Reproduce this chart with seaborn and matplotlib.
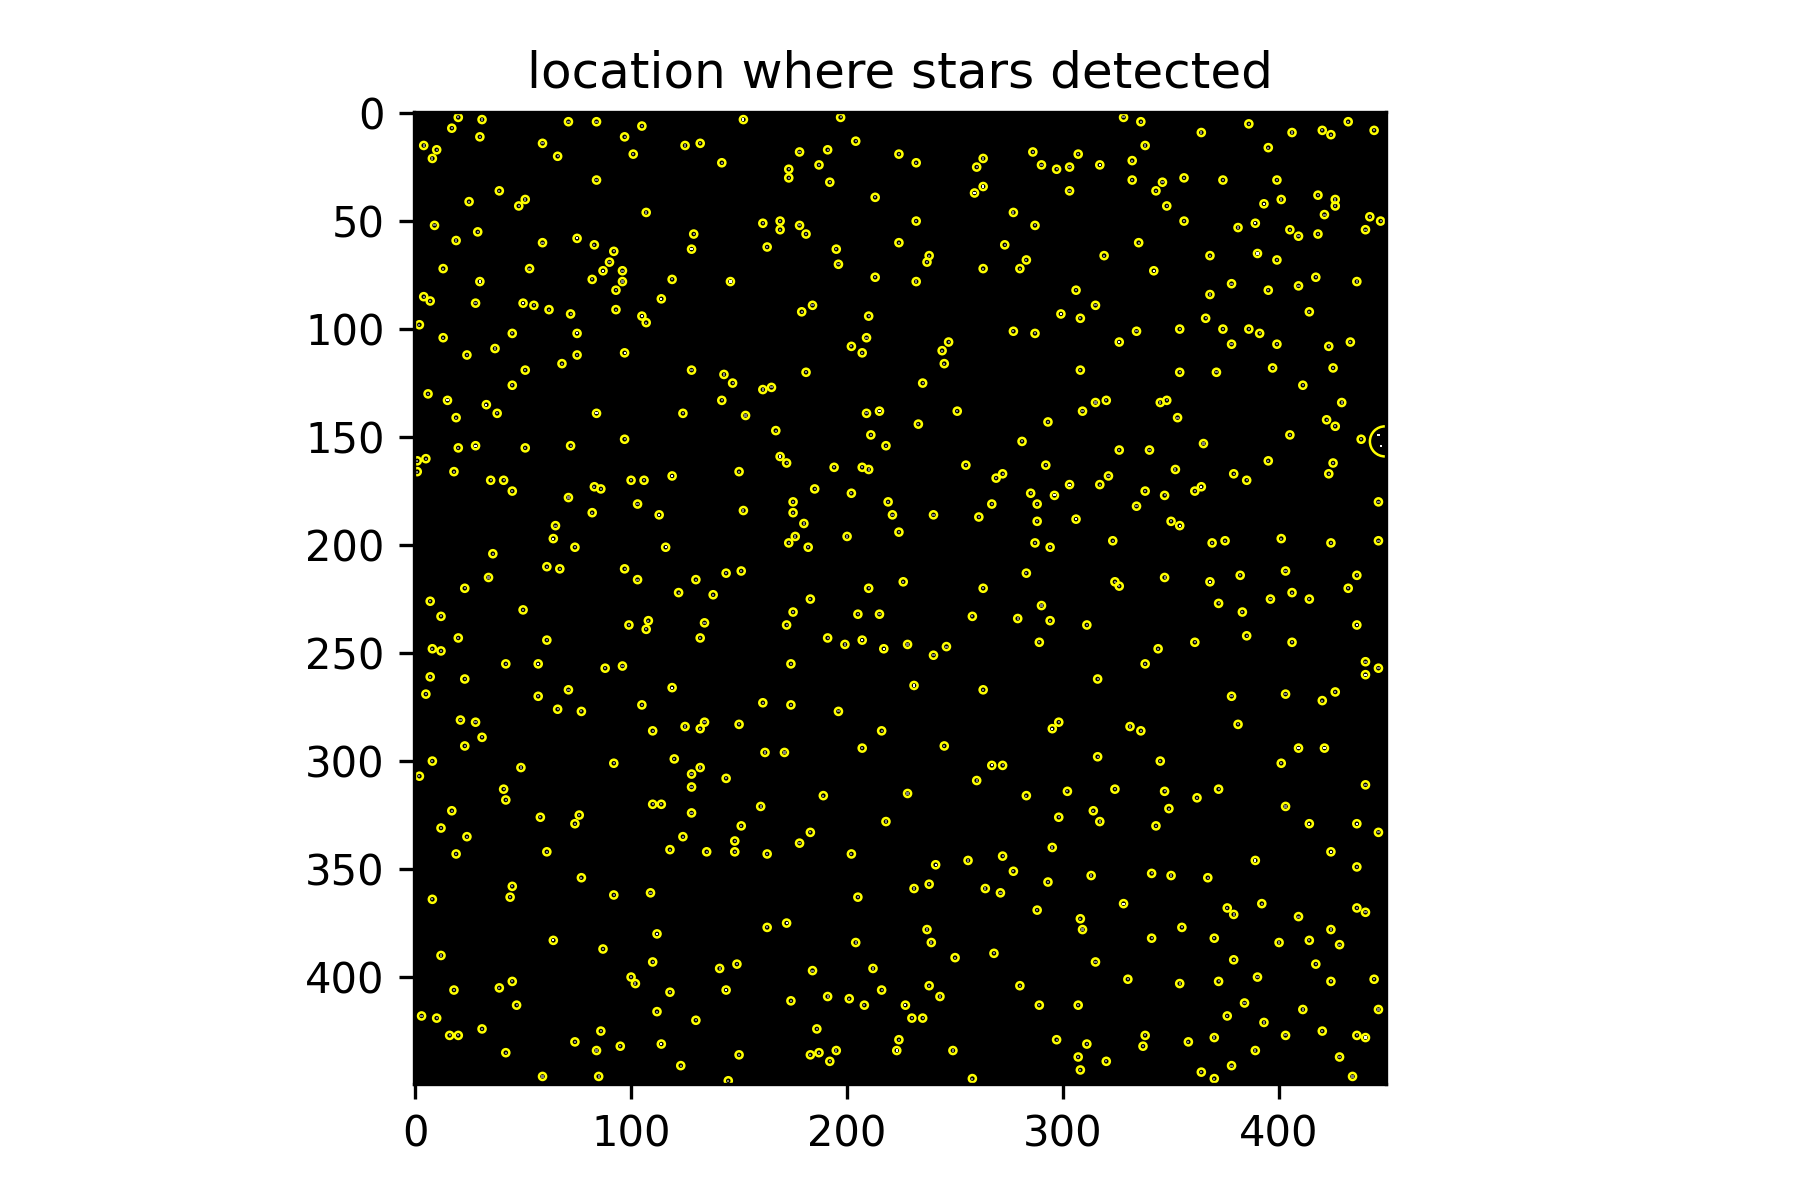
import matplotlib
matplotlib.use("Agg")
import matplotlib.pyplot as plt
import numpy as np
import pandas as pd
import seaborn as sns

IMAGE_SIZE = 450
TITLE = "location where stars detected"
X_TICKS = [0, 100, 200, 300, 400]
Y_TICKS = [0, 50, 100, 150, 200, 250, 300, 350, 400]

# star centres, (x, y) in image pixels
stars_top = [
    (20,2),(31,3),(17,7),(30,11),(4,15),(10,17),(8,21),(71,4),(84,4),(105,6),(97,11),(59,14),(66,20),(101,19),
    (125,15),(132,14),(142,23),(84,31),(39,36),(25,41),(51,40),(48,43),(107,46),(9,52),(29,55),(19,59),(59,60),
    (75,58),(83,61),(92,64),(129,56),(128,63),(13,72),(53,72),(90,69),(87,73),(96,73),(82,77),(96,78),(119,77),
    (30,78),(146,78),(93,82),(4,85),(7,87),(28,88),(50,88),(55,89),(62,91),(72,93),(93,91),(114,86),(105,94),
    (107,97),(2,98),(13,104),(45,102),(75,102),(37,109),(24,112),(75,112),(68,116),(97,111),(51,119),(128,119),
    (143,121),(147,125),(45,126),(6,130),(15,133),(33,135),(38,139),(19,141),(84,139),(124,139),(142,133),
    (152,3),(197,2),(204,13),(178,18),(191,17),(187,24),(173,26),(173,30),(192,32),(213,39),(224,19),(232,23),
    (263,21),(260,25),(263,34),(259,37),(286,18),(290,24),(297,26),(161,51),(169,50),(169,54),(178,52),(181,56),
    (163,62),(195,63),(196,70),(232,50),(224,60),(238,66),(237,69),(213,76),(232,78),(277,46),(287,52),(273,61),
    (283,68),(280,72),(263,72),(184,89),(179,92),(210,94),(209,104),(202,108),(207,111),(181,120),(247,106),
    (244,110),(245,116),(277,101),(287,102),(299,93),(235,125),(165,127),(161,128),(153,140),(167,147),(209,139),
    (215,138),(211,149),(233,144),(251,138),(293,143),
    (328,2),(336,4),(364,9),(386,5),(406,9),(420,8),(424,10),(432,4),(444,8),(338,15),(307,19),(303,25),(317,24),
    (332,22),(332,31),(303,36),(346,32),(343,36),(356,30),(374,31),(348,43),(356,50),(395,16),(399,31),(401,40),
    (393,42),(418,38),(426,40),(426,43),(421,47),(442,48),(447,50),(440,54),(418,56),(405,54),(409,57),(389,51),
    (381,53),(335,60),(319,66),(368,66),(390,65),(399,68),(342,73),(417,76),(436,78),(378,79),(409,80),(395,82),
    (306,82),(368,84),(315,89),(308,95),(414,92),(366,95),(334,101),(354,100),(374,100),(386,100),(391,102),
    (326,106),(378,107),(399,107),(423,108),(433,106),(308,119),(354,120),(371,120),(397,118),(425,118),(411,126),
    (429,134),(315,134),(320,133),(309,138),(345,134),(348,133),(353,141),(422,142),(426,145),(405,149),
]
stars_middle = [
    (97,151),(20,155),(28,154),(51,155),(72,154),(1,161),(5,160),(1,166),(18,166),(35,170),(41,170),(45,175),
    (71,178),(83,173),(86,174),(100,170),(106,170),(119,168),(150,166),(103,181),(82,185),(113,186),(65,191),
    (64,197),(74,201),(116,201),(36,204),(61,210),(67,211),(97,211),(103,216),(34,215),(23,220),(130,216),
    (144,213),(151,212),(122,222),(138,223),(7,226),(50,230),(12,233),(108,235),(99,237),(107,239),(134,236),
    (132,243),(20,243),(61,244),(8,248),(12,249),(42,255),(57,255),(88,257),(96,256),(7,261),(23,262),(5,269),
    (57,270),(71,267),(119,266),(66,276),(77,277),(105,274),(21,281),(28,282),(31,289),(23,293),(110,286),
    (125,284),(132,285),(134,282),(150,283),
    (218,154),(281,152),(169,159),(172,162),(194,164),(207,164),(210,165),(255,163),(292,163),(272,167),(269,169),
    (185,174),(202,176),(285,176),(296,177),(175,180),(175,185),(152,184),(219,180),(221,186),(240,186),(267,181),
    (261,187),(288,181),(288,189),(180,190),(176,196),(173,199),(182,201),(200,196),(224,194),(287,199),(294,201),
    (283,213),(226,217),(210,220),(263,220),(183,225),(175,231),(172,237),(205,232),(215,232),(258,233),(279,234),
    (290,228),(294,235),(191,243),(199,246),(207,244),(217,248),(228,246),(246,247),(240,251),(289,245),(174,255),
    (231,265),(263,267),(161,273),(174,274),(196,277),(216,286),(298,282),(295,285),(162,296),(171,296),(207,294),
    (245,293),
    (365,153),(326,156),(340,156),(438,151),(425,162),(395,161),(423,167),(352,165),(379,167),(385,170),(321,168),
    (303,172),(317,172),(338,175),(347,177),(361,175),(364,173),(446,180),(334,182),(306,188),(350,189),(354,191),
    (323,198),(369,199),(375,198),(401,197),(424,199),(446,198),(403,212),(382,214),(347,215),(368,217),(324,217),
    (326,219),(436,214),(432,220),(406,222),(414,225),(396,225),(372,227),(383,231),(311,237),(436,237),(385,242),
    (406,245),(361,245),(344,248),(338,255),(440,254),(446,257),(440,260),(316,262),(378,270),(403,269),(426,268),
    (420,272),(381,283),(331,284),(336,286),(409,294),(421,294),(316,298),
]
stars_bottom = [
    (8,300),(2,307),(49,303),(92,301),(120,299),(132,303),(128,306),(144,308),(128,312),(41,313),(42,318),(110,320),
    (114,320),(17,323),(128,324),(58,326),(76,325),(74,329),(12,331),(24,335),(19,343),(61,342),(124,335),(118,341),
    (135,342),(148,337),(148,342),(151,330),(77,354),(45,358),(44,363),(8,364),(92,362),(109,361),(64,383),(112,380),
    (87,387),(12,390),(110,393),(149,394),(141,396),(100,400),(102,403),(144,406),(118,407),(45,402),(39,405),(18,406),
    (47,413),(112,416),(130,420),(3,418),(10,419),(31,424),(16,427),(20,427),(86,425),(74,430),(84,434),(95,432),
    (114,431),(42,435),(150,436),(123,441),(59,446),(85,446),(145,448),
    (267,302),(272,302),(260,309),(283,316),(228,315),(189,316),(160,321),(218,328),(183,333),(178,338),(163,343),
    (202,343),(298,326),(295,340),(272,344),(256,346),(241,348),(277,351),(238,357),(231,359),(264,359),(271,361),
    (293,356),(205,363),(288,369),(237,378),(239,384),(172,375),(163,377),(204,384),(250,391),(268,389),(184,397),
    (212,396),(238,404),(280,404),(216,406),(243,409),(191,409),(201,410),(174,411),(208,413),(227,413),(289,413),
    (230,419),(235,419),(186,424),(224,429),(297,429),(195,434),(187,435),(183,436),(192,439),(223,434),(249,434),
    (258,447),
    (345,300),(401,301),(302,314),(324,313),(347,314),(362,317),(372,313),(440,311),(349,322),(314,323),(317,328),
    (343,330),(403,321),(414,329),(436,329),(446,333),(424,342),(389,346),(436,349),(313,353),(341,352),(350,353),
    (367,354),(328,366),(376,368),(379,371),(392,366),(409,372),(436,368),(440,370),(308,373),(309,378),(355,377),
    (341,382),(370,382),(400,384),(414,383),(424,378),(428,385),(315,393),(379,392),(417,394),(330,401),(354,403),
    (372,402),(390,400),(424,402),(444,401),(307,413),(384,412),(376,418),(411,415),(446,415),(393,421),(420,425),
    (403,427),(436,427),(440,428),(338,427),(337,432),(358,430),(370,428),(311,431),(307,437),(320,439),(308,443),
    (389,434),(428,437),(378,441),(364,444),(370,447),(434,446),
]
# centres that look white rather than grey
bright_stars = [
    (30,78),(87,73),(75,58),(50,88),(114,86),(15,133),(33,135),(84,139),(97,111),(146,78),(128,63),(75,102),(105,94),
    (28,154),(64,197),(57,255),(116,201),(119,266),(119,168),(113,186),(215,138),(152,3),(263,34),(259,37),(299,93),
    (169,159),(296,177),(207,244),(217,248),(231,265),(295,285),(172,375),(227,413),(223,434),(241,348),(267,302),
    (317,24),(393,42),(389,51),(390,65),(326,106),(342,73),(306,188),(354,191),(303,172),(364,173),(368,217),(436,237),
    (440,260),(421,294),(409,294),(414,329),(436,329),(424,342),(389,346),(328,366),(440,428),(64,383),(112,380),
    (144,406),(114,431),
]
big_star = [(449, 152)]
big_star_pixels = [(446, 149), (447, 154)]

DIM_LEVEL = 130
BRIGHT_LEVEL = 245


def build_image(stars):
    img = np.zeros((IMAGE_SIZE, IMAGE_SIZE))
    for x, y in stars:
        img[y, x] = DIM_LEVEL
    for x, y in bright_stars + big_star_pixels:
        img[y, x] = BRIGHT_LEVEL
    return img


def main():
    stars = pd.DataFrame(stars_top + stars_middle + stars_bottom, columns=["x", "y"])
    big = pd.DataFrame(big_star, columns=["x", "y"])

    fig = plt.figure(figsize=(6, 4), dpi=300)
    ax = fig.add_axes([414 / 1800, 1 - 1084 / 1200, 972 / 1800, 972 / 1200])
    ax.imshow(build_image(list(stars.itertuples(index=False, name=None))),
              cmap="gray", vmin=0, vmax=255, interpolation="nearest")
    sns.scatterplot(data=stars, x="x", y="y", s=2.9, marker="o", facecolor="none",
                    edgecolor="yellow", linewidth=0.6, ax=ax)
    sns.scatterplot(data=big, x="x", y="y", s=52, marker="o", facecolor="none",
                    edgecolor="yellow", linewidth=0.6, ax=ax)
    ax.set_xlim(-0.5, IMAGE_SIZE - 0.5)
    ax.set_ylim(IMAGE_SIZE - 0.5, -0.5)
    ax.set_xticks(X_TICKS)
    ax.set_yticks(Y_TICKS)
    ax.set_xlabel("")
    ax.set_ylabel("")
    ax.set_title(TITLE)
    fig.savefig("out.png", dpi=300)
    plt.close(fig)


if __name__ == "__main__":
    main()
